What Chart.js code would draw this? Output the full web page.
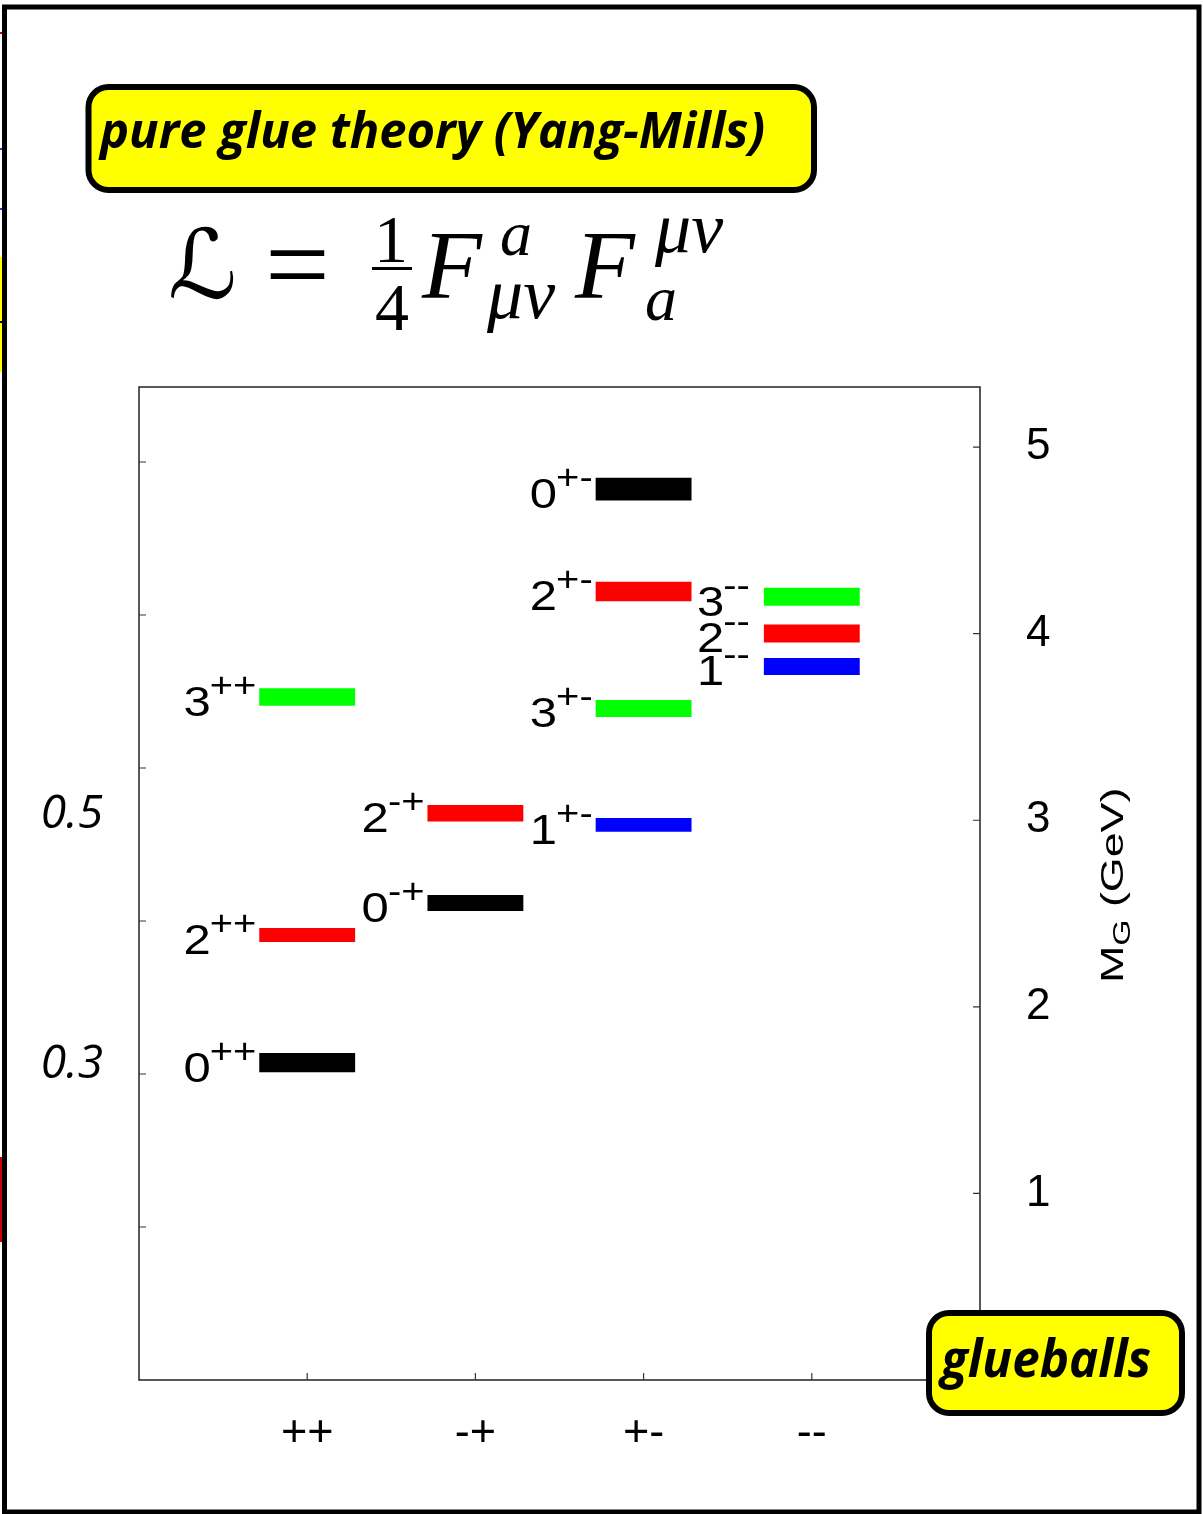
<!DOCTYPE html>
<html>
<head>
<meta charset="utf-8">
<title>Glueball spectrum</title>
<script src="https://cdn.jsdelivr.net/npm/chart.js@4.4.1/dist/chart.umd.min.js"></script>
<style>
  html, body { margin: 0; padding: 0; background: #fff; }
  #wrap { width: 1203px; height: 1514px; position: relative; }
  canvas { display: block; }
</style>
</head>
<body>
<div id="wrap"><canvas id="spectrum" width="1203" height="1514"></canvas></div>
<script>
// J^PC channels along the horizontal axis
const parityLabels = ['++', '-+', '+-', '--'];
// spin J of each series
const spinLabels = ['0', '1', '2', '3'];
// glueball mass bands [low, high] in GeV, one entry per PC channel (null = no state)
const massJ0 = [[1.649, 1.752], [2.514, 2.599], [4.714, 4.835], null];
const massJ1 = [null, null, [2.939, 3.012], [3.779, 3.870]];
const massJ2 = [[2.347, 2.423], [2.993, 3.082], [4.174, 4.278], [3.953, 4.049]];
const massJ3 = [[3.613, 3.708], null, [3.554, 3.645], [4.149, 4.246]];
// right axis (GeV) and left axis (r0 * M_G) ticks
const gevTicks = [1, 2, 3, 4, 5];
const r0Ticks = [2, 4, 6, 8, 10, 12];
const r0InverseGeV = 0.41;     // 1/r0 in GeV
const gevMax = 5.322;          // top of the mass axis
// side annotations and the mass (GeV) their baseline sits at
const sideNotes = ['0.5', '0.3'];
const sideNoteGeV = [2.957, 1.617];

const spinColors = ['#000000', '#0000ff', '#ff0000', '#00ff00'];
const massBands = [massJ0, massJ1, massJ2, massJ3];

const datasets = spinLabels.map((J, k) => ({
  label: J,
  xAxisID: 'x',
  yAxisID: 'yR',
  data: massBands[k]
    .map((band, i) => band ? { x: i + 1, y: band } : null)
    .filter(Boolean),
  backgroundColor: spinColors[k],
  borderWidth: 0,
  borderSkipped: false,
  grouped: false,
  categoryPercentage: 1,
  barPercentage: 0.57
}));

const LABEL_FONT = '"Liberation Sans", Arial, Helvetica, sans-serif';
const STRETCH = 1.14;

function stretchedRight(ctx, text, xRight, baseline, font, sx) {
  ctx.font = font;
  const w = ctx.measureText(text).width * sx;
  ctx.save();
  ctx.translate(xRight - w, baseline);
  ctx.scale(sx, 1);
  ctx.textAlign = 'left';
  ctx.textBaseline = 'alphabetic';
  ctx.fillText(text, 0, 0);
  ctx.restore();
  return xRight - w;
}

function roundBox(ctx, x0, y0, x1, y1, r) {
  ctx.beginPath();
  ctx.moveTo(x0 + r, y0);
  ctx.lineTo(x1 - r, y0);
  ctx.arcTo(x1, y0, x1, y0 + r, r);
  ctx.lineTo(x1, y1 - r);
  ctx.arcTo(x1, y1, x1 - r, y1, r);
  ctx.lineTo(x0 + r, y1);
  ctx.arcTo(x0, y1, x0, y1 - r, r);
  ctx.lineTo(x0, y0 + r);
  ctx.arcTo(x0, y0, x0 + r, y0, r);
  ctx.closePath();
  ctx.fillStyle = '#ffff00';
  ctx.fill();
  ctx.lineWidth = 6;
  ctx.strokeStyle = '#000';
  ctx.stroke();
}

const decorations = {
  id: 'decorations',
  beforeDraw(chart) {
    const ctx = chart.ctx;
    ctx.save();
    ctx.fillStyle = '#fff';
    ctx.fillRect(0, 0, chart.width, chart.height);
    ctx.restore();
  },
  afterDraw(chart) {
    const ctx = chart.ctx;
    const area = chart.chartArea;
    const xs = chart.scales.x, yL = chart.scales.yL, yR = chart.scales.yR;
    ctx.save();

    // plot frame
    ctx.strokeStyle = '#222';
    ctx.lineWidth = 1.5;
    ctx.strokeRect(area.left, area.top, area.right - area.left, area.bottom - area.top);

    // inward tick marks
    ctx.lineWidth = 1.2;
    ctx.strokeStyle = '#333';
    ctx.beginPath();
    xs.ticks.forEach((t) => {
      const px = xs.getPixelForValue(t.value);
      ctx.moveTo(px, area.bottom); ctx.lineTo(px, area.bottom - 7);
    });
    yL.ticks.forEach((t) => {
      const py = yL.getPixelForValue(t.value);
      ctx.moveTo(area.left, py); ctx.lineTo(area.left + 7, py);
    });
    yR.ticks.forEach((t) => {
      const py = yR.getPixelForValue(t.value);
      ctx.moveTo(area.right, py); ctx.lineTo(area.right - 7, py);
    });
    ctx.stroke();

    // J^PC labels beside each level
    ctx.fillStyle = '#000';
    chart.data.datasets.forEach((ds, k) => {
      const meta = chart.getDatasetMeta(k);
      meta.data.forEach((bar, j) => {
        const pc = parityLabels[ds.data[j].x - 1];
        const mid = (bar.y + bar.base) / 2;
        const left = bar.x - bar.width / 2;
        const gap = pc === '--' ? 14 : 3;
        const supLeft = stretchedRight(ctx, pc, left - gap, mid, '35px ' + LABEL_FONT, STRETCH);
        stretchedRight(ctx, ds.label, supLeft + 1, mid + 19, '43px ' + LABEL_FONT, STRETCH);
      });
    });

    // side annotations
    ctx.font = 'italic 46px "Open Sans", "Noto Sans", sans-serif';
    ctx.textAlign = 'right';
    ctx.textBaseline = 'alphabetic';
    sideNotes.forEach((txt, i) => {
      ctx.fillText(txt, 103, yR.getPixelForValue(sideNoteGeV[i]));
    });

    // axis title M_G (GeV)
    ctx.save();
    ctx.translate(1123, 983);
    ctx.rotate(-Math.PI / 2);
    ctx.scale(1.4, 1);
    ctx.textAlign = 'left';
    ctx.font = '32px ' + LABEL_FONT;
    ctx.fillText('M', 0, 0);
    let off = ctx.measureText('M').width;
    ctx.font = '24px ' + LABEL_FONT;
    ctx.fillText('G', off, 7);
    off += ctx.measureText('G').width;
    ctx.font = '32px ' + LABEL_FONT;
    ctx.fillText(' (GeV)', off, 0);
    ctx.restore();

    // Lagrangian
    ctx.textAlign = 'left';
    ctx.font = 'italic 96px "DejaVu Serif", "DejaVu Sans", serif';
    ctx.fillText('\u2112', 168, 298);
    ctx.font = '115px "Liberation Serif", serif';
    ctx.fillText('=', 265, 303);
    ctx.textAlign = 'center';
    ctx.font = '68px "Liberation Serif", serif';
    ctx.fillText('1', 391, 262);
    ctx.fillText('4', 392, 330);
    ctx.fillRect(372, 267, 40, 3);
    ctx.textAlign = 'left';
    ctx.font = 'italic 98px "Liberation Serif", serif';
    ctx.fillText('F', 422, 298);
    ctx.fillText('F', 575, 298);
    ctx.font = 'italic 64px "Liberation Serif", serif';
    ctx.fillText('a', 500, 255);
    ctx.fillText('a', 645, 320);
    ctx.font = 'italic 72px "Liberation Serif", serif';
    ctx.fillText('\u03bc\u03bd', 487, 318);
    ctx.fillText('\u03bc\u03bd', 655, 252);

    // header box
    roundBox(ctx, 88.5, 87, 814, 190, 20);
    ctx.fillStyle = '#000';
    ctx.textAlign = 'left';
    ctx.font = 'italic bold 50px "Open Sans", "Noto Sans", sans-serif';
    ctx.fillText('pure glue theory (Yang-Mills)', 100, 148, 665);

    // corner box
    roundBox(ctx, 929, 1313, 1182, 1413, 20);
    ctx.fillStyle = '#000';
    ctx.font = 'italic bold 52px "Open Sans", "Noto Sans", sans-serif';
    ctx.fillText('glueballs', 941, 1377, 210);

    // slide edge strips and outer frame
    ctx.fillStyle = '#ffff00';
    ctx.fillRect(0, 257, 3, 115);
    ctx.fillStyle = '#000';
    ctx.fillRect(0, 321, 3, 2);
    ctx.fillStyle = '#cc0000';
    ctx.fillRect(0, 1157, 3, 85);
    ctx.fillRect(0, 32, 3, 2);
    ctx.fillStyle = '#2040c0';
    ctx.fillRect(0, 148, 3, 2);
    ctx.fillRect(0, 208, 3, 2);
    ctx.strokeStyle = '#000';
    ctx.lineWidth = 5;
    ctx.strokeRect(4.5, 7, 1194.5, 1505);

    ctx.restore();
  }
};

new Chart(document.getElementById('spectrum'), {
  type: 'bar',
  data: { datasets },
  options: {
    responsive: false,
    devicePixelRatio: 1,
    animation: false,
    events: [],
    layout: { padding: { top: 387, left: 0, right: 0, bottom: 0 } },
    plugins: { legend: { display: false }, tooltip: { enabled: false } },
    scales: {
      x: {
        type: 'linear',
        position: 'bottom',
        min: 0,
        max: 5,
        offset: false,
        grid: { display: false },
        border: { display: false },
        afterBuildTicks: (s) => { s.ticks = parityLabels.map((p, i) => ({ value: i + 1 })); },
        afterFit: (s) => { s.height = 134; },
        ticks: {
          color: '#000',
          padding: 19,
          maxRotation: 0,
          autoSkip: false,
          font: { family: LABEL_FONT, size: 45 },
          callback: (v) => parityLabels[v - 1] ?? ''
        }
      },
      yL: {
        type: 'linear',
        position: 'left',
        min: 0,
        max: gevMax / r0InverseGeV,
        grid: { display: false },
        border: { display: false },
        afterBuildTicks: (s) => { s.ticks = r0Ticks.map((v) => ({ value: v })); },
        afterFit: (s) => { s.width = 139; },
        ticks: { display: false }
      },
      yR: {
        type: 'linear',
        position: 'right',
        min: 0,
        max: gevMax,
        grid: { display: false },
        border: { display: false },
        afterBuildTicks: (s) => { s.ticks = gevTicks.map((v) => ({ value: v })); },
        afterFit: (s) => { s.width = 223; },
        ticks: {
          color: '#000',
          padding: 38,
          font: { family: LABEL_FONT, size: 44 },
          callback: (v) => String(v)
        }
      }
    }
  },
  plugins: [decorations]
});
</script>
</body>
</html>
